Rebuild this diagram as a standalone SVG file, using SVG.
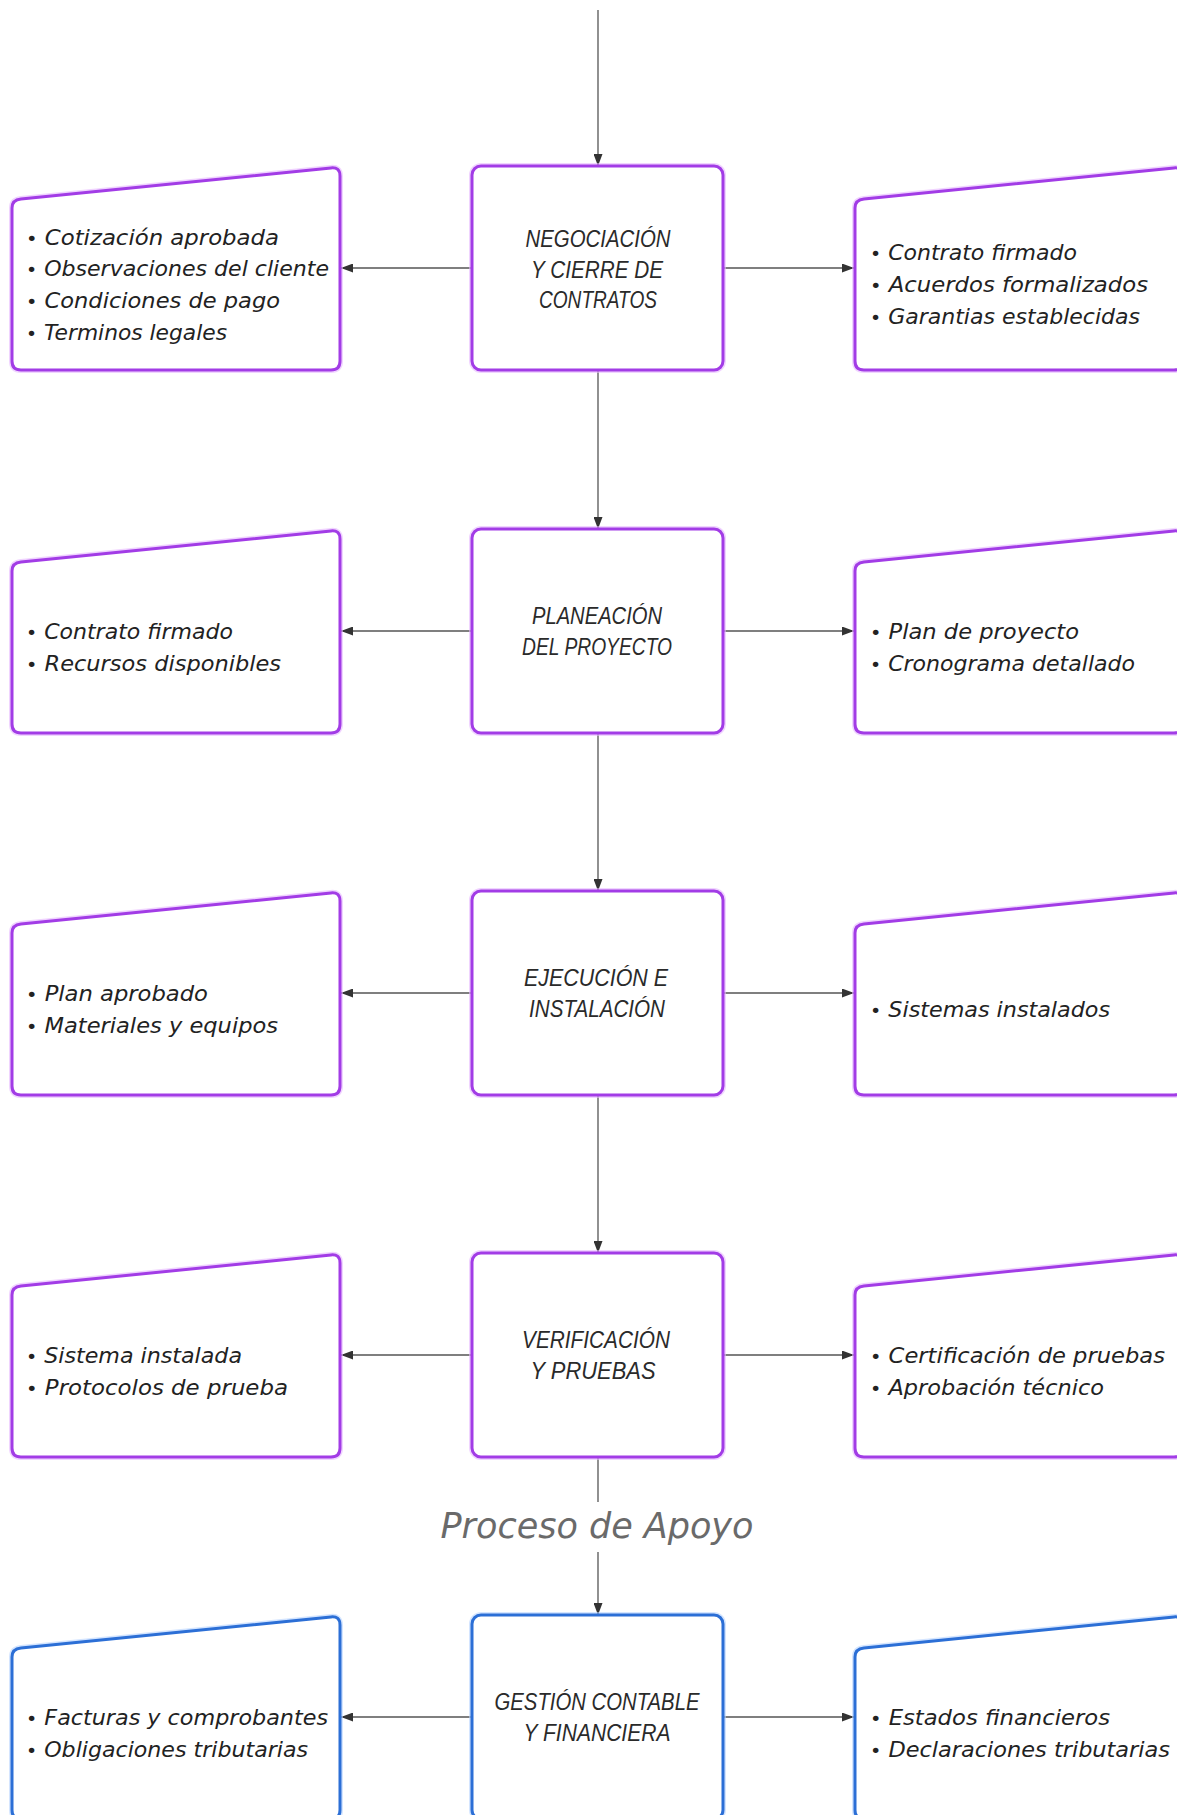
<svg xmlns="http://www.w3.org/2000/svg" width="1177" height="1815" viewBox="0 0 1177 1815">
<style>
.bg{fill:#ffffff}
.p{fill:#ffffff;stroke:#a23ce6;stroke-width:3}
.bl{fill:#ffffff;stroke:#2c6fd6;stroke-width:3}
.glp{fill:none;stroke:#e6b8ff;stroke-width:6;opacity:0.6}
.glb{fill:none;stroke:#b8d4ff;stroke-width:6;opacity:0.6}
.c{fill:none;stroke:#555555;stroke-width:1.3}
.t{font-family:"Liberation Sans",Arial,sans-serif;font-style:italic;font-size:23px;fill:#2a2a2a;text-anchor:middle}
.l{font-family:"DejaVu Sans",sans-serif;font-style:oblique;font-size:21px;fill:#222222}
.b{font-size:18px}
.ap{font-family:"DejaVu Sans",sans-serif;font-style:oblique;font-size:35px;fill:#6a6a6a;text-anchor:middle}
</style>
<defs>
<marker id="ah" viewBox="0 0 12 9" refX="12" refY="4.5" markerWidth="12" markerHeight="9" markerUnits="userSpaceOnUse" orient="auto">
<path d="M0,0 L12,4.5 L0,9 z" fill="#333333"/>
</marker>
<path id="lshape" d="M12,42 Q12,34 21,33.1 L331,1.9 Q340,1 340,10 L340,195 Q340,204 331,204 L21,204 Q12,204 12,195 Z"/>
<path id="rshape" d="M855,42 Q855,34 864,33.1 L1174,1.9 Q1183,1 1183,10 L1183,195 Q1183,204 1174,204 L864,204 Q855,204 855,195 Z"/>
</defs>
<rect class="bg" x="0" y="0" width="1177" height="1815"/>

<g id="connectors">
<line class="c" x1="598" y1="10" x2="598" y2="166" marker-end="url(#ah)"/>
<line class="c" x1="472" y1="268" x2="341" y2="268" marker-end="url(#ah)"/>
<line class="c" x1="723" y1="268" x2="854" y2="268" marker-end="url(#ah)"/>
<line class="c" x1="598" y1="370" x2="598" y2="529" marker-end="url(#ah)"/>
<line class="c" x1="472" y1="631" x2="341" y2="631" marker-end="url(#ah)"/>
<line class="c" x1="723" y1="631" x2="854" y2="631" marker-end="url(#ah)"/>
<line class="c" x1="598" y1="733" x2="598" y2="891" marker-end="url(#ah)"/>
<line class="c" x1="472" y1="993" x2="341" y2="993" marker-end="url(#ah)"/>
<line class="c" x1="723" y1="993" x2="854" y2="993" marker-end="url(#ah)"/>
<line class="c" x1="598" y1="1095" x2="598" y2="1253" marker-end="url(#ah)"/>
<line class="c" x1="472" y1="1355" x2="341" y2="1355" marker-end="url(#ah)"/>
<line class="c" x1="723" y1="1355" x2="854" y2="1355" marker-end="url(#ah)"/>
<line class="c" x1="598" y1="1457" x2="598" y2="1502"/>
<line class="c" x1="598" y1="1552" x2="598" y2="1615" marker-end="url(#ah)"/>
<line class="c" x1="472" y1="1717" x2="341" y2="1717" marker-end="url(#ah)"/>
<line class="c" x1="723" y1="1717" x2="854" y2="1717" marker-end="url(#ah)"/>
<text class="ap" x="597" y="1538" textLength="313" lengthAdjust="spacingAndGlyphs">Proceso de Apoyo</text>
</g>

<!-- Row 1 -->
<g id="n1">
<rect class="glp" x="472" y="166" width="251" height="204" rx="9"/>
<rect class="p" x="472" y="166" width="251" height="204" rx="9"/>
<text class="t" x="598" y="247" textLength="145" lengthAdjust="spacingAndGlyphs">NEGOCIACIÓN</text>
<text class="t" x="597" y="278" textLength="132" lengthAdjust="spacingAndGlyphs">Y CIERRE DE</text>
<text class="t" x="598" y="308" textLength="118" lengthAdjust="spacingAndGlyphs">CONTRATOS</text>
</g>
<g id="n1in" transform="translate(0,166)">
<use href="#lshape" class="glp"/>
<use href="#lshape" class="p"/>
<text class="l" x="26" y="79" textLength="253" lengthAdjust="spacingAndGlyphs"><tspan class="b">•</tspan> Cotización aprobada</text>
<text class="l" x="26" y="110" textLength="303" lengthAdjust="spacingAndGlyphs"><tspan class="b">•</tspan> Observaciones del cliente</text>
<text class="l" x="26" y="142" textLength="254" lengthAdjust="spacingAndGlyphs"><tspan class="b">•</tspan> Condiciones de pago</text>
<text class="l" x="26" y="174" textLength="201" lengthAdjust="spacingAndGlyphs"><tspan class="b">•</tspan> Terminos legales</text>
</g>
<g id="n1out" transform="translate(0,166)">
<use href="#rshape" class="glp"/>
<use href="#rshape" class="p"/>
<text class="l" x="870" y="94" textLength="207" lengthAdjust="spacingAndGlyphs"><tspan class="b">•</tspan> Contrato firmado</text>
<text class="l" x="870" y="126" textLength="278" lengthAdjust="spacingAndGlyphs"><tspan class="b">•</tspan> Acuerdos formalizados</text>
<text class="l" x="870" y="158" textLength="270" lengthAdjust="spacingAndGlyphs"><tspan class="b">•</tspan> Garantias establecidas</text>
</g>

<!-- Row 2 -->
<g id="n2">
<rect class="glp" x="472" y="529" width="251" height="204" rx="9"/>
<rect class="p" x="472" y="529" width="251" height="204" rx="9"/>
<text class="t" x="597" y="624" textLength="130" lengthAdjust="spacingAndGlyphs">PLANEACIÓN</text>
<text class="t" x="597" y="655" textLength="150" lengthAdjust="spacingAndGlyphs">DEL PROYECTO</text>
</g>
<g id="n2in" transform="translate(0,529)">
<use href="#lshape" class="glp"/>
<use href="#lshape" class="p"/>
<text class="l" x="26" y="110" textLength="207" lengthAdjust="spacingAndGlyphs"><tspan class="b">•</tspan> Contrato firmado</text>
<text class="l" x="26" y="142" textLength="255" lengthAdjust="spacingAndGlyphs"><tspan class="b">•</tspan> Recursos disponibles</text>
</g>
<g id="n2out" transform="translate(0,529)">
<use href="#rshape" class="glp"/>
<use href="#rshape" class="p"/>
<text class="l" x="870" y="110" textLength="209" lengthAdjust="spacingAndGlyphs"><tspan class="b">•</tspan> Plan de proyecto</text>
<text class="l" x="870" y="142" textLength="265" lengthAdjust="spacingAndGlyphs"><tspan class="b">•</tspan> Cronograma detallado</text>
</g>

<!-- Row 3 -->
<g id="n3">
<rect class="glp" x="472" y="891" width="251" height="204" rx="9"/>
<rect class="p" x="472" y="891" width="251" height="204" rx="9"/>
<text class="t" x="596" y="986" textLength="144" lengthAdjust="spacingAndGlyphs">EJECUCIÓN E</text>
<text class="t" x="597" y="1017" textLength="136" lengthAdjust="spacingAndGlyphs">INSTALACIÓN</text>
</g>
<g id="n3in" transform="translate(0,891)">
<use href="#lshape" class="glp"/>
<use href="#lshape" class="p"/>
<text class="l" x="26" y="110" textLength="182" lengthAdjust="spacingAndGlyphs"><tspan class="b">•</tspan> Plan aprobado</text>
<text class="l" x="26" y="142" textLength="252" lengthAdjust="spacingAndGlyphs"><tspan class="b">•</tspan> Materiales y equipos</text>
</g>
<g id="n3out" transform="translate(0,891)">
<use href="#rshape" class="glp"/>
<use href="#rshape" class="p"/>
<text class="l" x="870" y="126" textLength="240" lengthAdjust="spacingAndGlyphs"><tspan class="b">•</tspan> Sistemas instalados</text>
</g>

<!-- Row 4 -->
<g id="n4">
<rect class="glp" x="472" y="1253" width="251" height="204" rx="9"/>
<rect class="p" x="472" y="1253" width="251" height="204" rx="9"/>
<text class="t" x="596" y="1348" textLength="148" lengthAdjust="spacingAndGlyphs">VERIFICACIÓN</text>
<text class="t" x="593" y="1379" textLength="125" lengthAdjust="spacingAndGlyphs">Y PRUEBAS</text>
</g>
<g id="n4in" transform="translate(0,1253)">
<use href="#lshape" class="glp"/>
<use href="#lshape" class="p"/>
<text class="l" x="26" y="110" textLength="216" lengthAdjust="spacingAndGlyphs"><tspan class="b">•</tspan> Sistema instalada</text>
<text class="l" x="26" y="142" textLength="262" lengthAdjust="spacingAndGlyphs"><tspan class="b">•</tspan> Protocolos de prueba</text>
</g>
<g id="n4out" transform="translate(0,1253)">
<use href="#rshape" class="glp"/>
<use href="#rshape" class="p"/>
<text class="l" x="870" y="110" textLength="295" lengthAdjust="spacingAndGlyphs"><tspan class="b">•</tspan> Certificación de pruebas</text>
<text class="l" x="870" y="142" textLength="234" lengthAdjust="spacingAndGlyphs"><tspan class="b">•</tspan> Aprobación técnico</text>
</g>

<!-- Row 5 -->
<g id="n5">
<rect class="glb" x="472" y="1615" width="251" height="204" rx="9"/>
<rect class="bl" x="472" y="1615" width="251" height="204" rx="9"/>
<text class="t" x="597" y="1710" textLength="205" lengthAdjust="spacingAndGlyphs">GESTIÓN CONTABLE</text>
<text class="t" x="597" y="1741" textLength="147" lengthAdjust="spacingAndGlyphs">Y FINANCIERA</text>
</g>
<g id="n5in" transform="translate(0,1615)">
<use href="#lshape" class="glb"/>
<use href="#lshape" class="bl"/>
<text class="l" x="26" y="110" textLength="302" lengthAdjust="spacingAndGlyphs"><tspan class="b">•</tspan> Facturas y comprobantes</text>
<text class="l" x="26" y="142" textLength="282" lengthAdjust="spacingAndGlyphs"><tspan class="b">•</tspan> Obligaciones tributarias</text>
</g>
<g id="n5out" transform="translate(0,1615)">
<use href="#rshape" class="glb"/>
<use href="#rshape" class="bl"/>
<text class="l" x="870" y="110" textLength="240" lengthAdjust="spacingAndGlyphs"><tspan class="b">•</tspan> Estados financieros</text>
<text class="l" x="870" y="142" textLength="300" lengthAdjust="spacingAndGlyphs"><tspan class="b">•</tspan> Declaraciones tributarias</text>
</g>
</svg>
